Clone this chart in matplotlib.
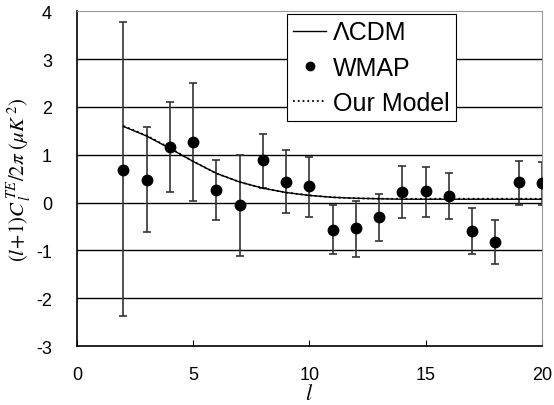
import numpy as np
import matplotlib.pyplot as plt
from matplotlib.lines import Line2D

# ------------------------------------------------------------
# TE power spectrum, low multipoles
# ------------------------------------------------------------
ell = [2, 3, 4, 5, 6, 7, 8, 9, 10, 11, 12, 13, 14, 15, 16, 17, 18, 19, 20]
wmap = [0.69, 0.48, 1.17, 1.27, 0.26, -0.05, 0.88, 0.44, 0.34, -0.57,
        -0.53, -0.30, 0.23, 0.24, 0.14, -0.60, -0.83, 0.42, 0.40]
err_hi = [3.77, 1.58, 2.10, 2.50, 0.88, 1.00, 1.44, 1.10, 0.96, -0.05,
          0.03, 0.18, 0.76, 0.74, 0.61, -0.12, -0.36, 0.86, 0.84]
err_lo = [-2.37, -0.62, 0.22, 0.03, -0.37, -1.12, 0.30, -0.22, -0.30, -1.08,
          -1.13, -0.80, -0.33, -0.30, -0.34, -1.08, -1.28, -0.05, -0.06]

lcdm = [1.59, 1.39, 1.13, 0.86, 0.61, 0.43, 0.30, 0.21, 0.15, 0.11,
        0.09, 0.08, 0.07, 0.07, 0.07, 0.07, 0.07, 0.07, 0.07]
our_model = [1.60, 1.40, 1.14, 0.86, 0.61, 0.43, 0.30, 0.21, 0.15, 0.11,
             0.09, 0.08, 0.08, 0.08, 0.08, 0.08, 0.08, 0.08, 0.08]

plt.rcParams["font.family"] = ["Liberation Sans", "DejaVu Sans"]
plt.rcParams["mathtext.fontset"] = "stix"
plt.rcParams["axes.unicode_minus"] = False

fig = plt.figure(figsize=(5.54, 4.06), dpi=100)
ax = fig.add_axes([0.139, 0.145, 0.839, 0.825])

# horizontal grid
for yv in range(-2, 4):
    ax.axhline(yv, color="black", lw=1.0, zorder=1)

wmap_a = np.array(wmap)
yerr = [wmap_a - np.array(err_lo), np.array(err_hi) - wmap_a]
ax.errorbar(ell, wmap, yerr=yerr, fmt="none", ecolor="#333333",
            elinewidth=1.2, capsize=3, capthick=1.2, zorder=2)
ax.plot(ell, wmap, "o", color="black", markersize=7.5, zorder=4)

ax.plot(ell, lcdm, "-", color="black", lw=1.0, zorder=3)
ax.plot(ell, our_model, ":", color="black", lw=1.3, zorder=3)

ax.set_xlim(0, 20)
ax.set_ylim(-3, 4)
ax.set_xticks([0, 5, 10, 15, 20])
ax.set_yticks(range(-3, 5))
ax.tick_params(axis="x", direction="in", length=4, labelsize=13, pad=14)
ax.tick_params(axis="y", length=0, labelsize=13, pad=18)

for side in ["top", "right"]:
    ax.spines[side].set_color("#999999")
for side in ["left", "bottom"]:
    ax.spines[side].set_color("black")
    ax.spines[side].set_linewidth(1.2)

ax.set_xlabel(r"$l$", fontsize=16, labelpad=0)
ax.set_ylabel(r"$(l\!+\!1)C_{\,l}^{\,TE}/2\pi\ (\mu K^{\,2})$", fontsize=15,
              labelpad=2)

handles = [
    Line2D([], [], color="black", lw=1.0),
    Line2D([], [], color="black", marker="o", ls="none", markersize=6),
    Line2D([], [], color="black", lw=1.3, ls=":"),
]
leg = ax.legend(handles, ["\u039bCDM", "WMAP", "Our Model"],
                loc="upper left", bbox_to_anchor=(0.452, 0.991),
                borderaxespad=0, fontsize=18, fancybox=False,
                framealpha=1, edgecolor="black", handlelength=1.3,
                handletextpad=0.3, labelspacing=0.45, borderpad=0.25)
leg.get_frame().set_linewidth(0.8)

fig.savefig("out.png", dpi=100)
